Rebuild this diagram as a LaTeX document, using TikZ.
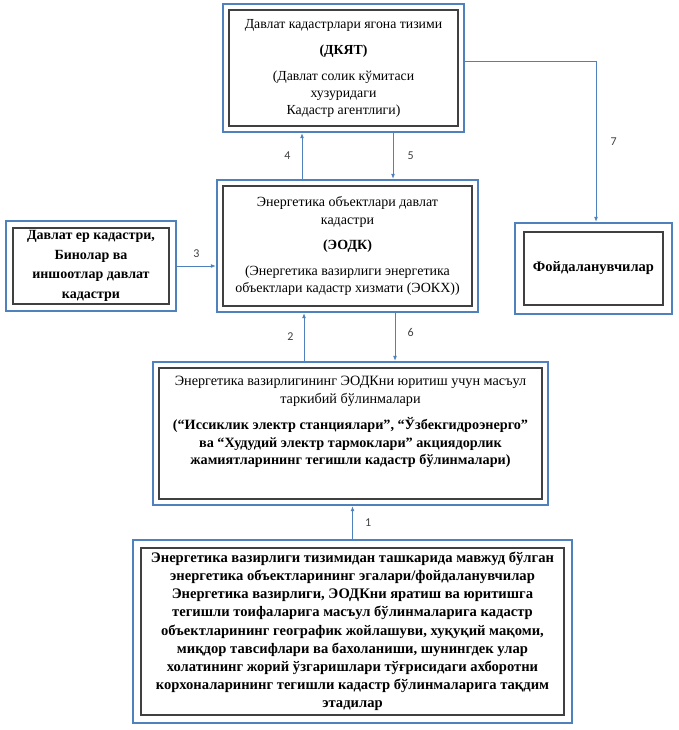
\documentclass[tikz,border=0pt]{standalone}
\usepackage{fontspec}
\setmainfont{Liberation Serif}
\newfontfamily\kadfont{Liberation Serif}
\newfontfamily\numfont{Carlito}
\usetikzlibrary{arrows.meta}
\definecolor{frameblue}{RGB}{79,129,189}
\definecolor{framegray}{RGB}{64,64,64}
\tikzset{
    kadbox/.style={
        rectangle,
        draw=frameblue, % outer blue frame
        line width=2.2pt,
        inner sep=0pt,
        align=center,
        font=\kadfont\fontsize{14}{17.5}\selectfont,
        path picture={
            \draw[framegray, line width=1.1pt] % inner frame
                ([xshift=#1, yshift=-#1]path picture bounding box.north west) rectangle
                ([xshift=-#1, yshift=#1]path picture bounding box.south east);
        }
    },
    kadbox/.default=6pt,
    flow/.style={
        draw=frameblue,
        line width=1pt,
        -{Latex[length=5pt, width=4pt]}
    },
    numlabel/.style={
        font=\numfont\fontsize{12}{14}\selectfont,
        text=black!75,
        inner sep=1pt
    }
}

\begin{document}
\begin{tikzpicture}[x=1pt, y=-1pt]
    \useasboundingbox (0,0) rectangle (678,730);

    \node[kadbox, minimum width=241pt, minimum height=128pt,
          font=\kadfont\fontsize{13.8}{17}\selectfont] (dkyat) at (343.5,68)
        {Давлат кадастрлари ягона тизими\\[9pt]
         \textbf{(ДКЯТ)}\\[9pt]
         (Давлат солик кўмитаси\\
         хузуридаги\\
         Кадастр агентлиги)};

    \node[kadbox, minimum width=261pt, minimum height=132pt] (eodk) at (347.5,246)
        {Энергетика объектлари давлат\\
         кадастри\\[8pt]
         \textbf{(ЭОДК)}\\[8pt]
         (Энергетика вазирлиги энергетика\\
         объектлари кадастр хизмати (ЭОКХ))};

    \node[kadbox=7pt, minimum width=170pt, minimum height=90pt,
          font=\kadfont\bfseries\fontsize{14}{19.5}\selectfont] (yer) at (91,266)
        {Давлат ер кадастри,\\
         Бинолар ва\\
         иншоотлар давлат\\
         кадастри};

    \node[kadbox=9pt, minimum width=157pt, minimum height=91pt,
          font=\kadfont\bfseries\fontsize{14.5}{17}\selectfont] (users) at (593.5,268.5)
        {Фойдаланувчилар};

    \node[kadbox, minimum width=395pt, minimum height=143pt, text depth=26pt,
          font=\kadfont\fontsize{14.2}{17.5}\selectfont] (bolim) at (350.5,433.5)
        {Энергетика вазирлигининг ЭОДКни юритиш учун масъул\\
         таркибий бўлинмалари\\[9pt]
         \textbf{(“Иссиклик электр станциялари”, “Ўзбекгидроэнерго”}\\
         \textbf{ва “Худудий электр тармоклари” акциядорлик}\\
         \textbf{жамиятларининг тегишли кадастр бўлинмалари)}};

    \node[kadbox=8pt, minimum width=439pt, minimum height=183pt,
          font=\kadfont\bfseries\fontsize{14.6}{18.2}\selectfont] (egalar) at (352.5,631.5)
        {Энергетика вазирлиги тизимидан ташкарида мавжуд бўлган\\
         энергетика объектларининг эгалари/фойдаланувчилар\\
         Энергетика вазирлиги, ЭОДКни яратиш ва юритишга\\
         тегишли тоифаларига масъул бўлинмаларига кадастр\\
         объектларининг географик жойлашуви, хуқуқий мақоми,\\
         миқдор тавсифлари ва бахоланиши, шунингдек улар\\
         холатининг жорий ўзгаришлари тўғрисидаги ахборотни\\
         корхоналарининг тегишли кадастр бўлинмаларига тақдим\\
         этадилар};

    % connectors
    \draw[flow] (egalar.north) -- (egalar.north |- bolim.south)
        node[numlabel, midway, right=11pt] {1};
    \draw[flow] ([xshift=-46.5pt]bolim.north) -- ([xshift=-46.5pt]bolim.north |- eodk.south)
        node[numlabel, midway, left=9pt] {2};
    \draw[flow] (yer.east) -- (yer.east -| eodk.west)
        node[numlabel, midway, above=7pt] {3};
    \draw[flow] ([xshift=-45.5pt]eodk.north) -- ([xshift=-45.5pt]eodk.north |- dkyat.south)
        node[numlabel, midway, left=10pt] {4};
    \draw[flow] ([xshift=49.5pt]dkyat.south) -- ([xshift=49.5pt]dkyat.south |- eodk.north)
        node[numlabel, midway, right=13pt] {5};
    \draw[flow] ([xshift=47.5pt]eodk.south) -- ([xshift=47.5pt]eodk.south |- bolim.north)
        node[numlabel, pos=0.4, right=11pt] {6};
    \draw[flow] ([yshift=6pt]dkyat.east) -| ([xshift=2.5pt]users.north)
        node[numlabel, pos=0.75, right=13pt] {7};
\end{tikzpicture}
\end{document}
